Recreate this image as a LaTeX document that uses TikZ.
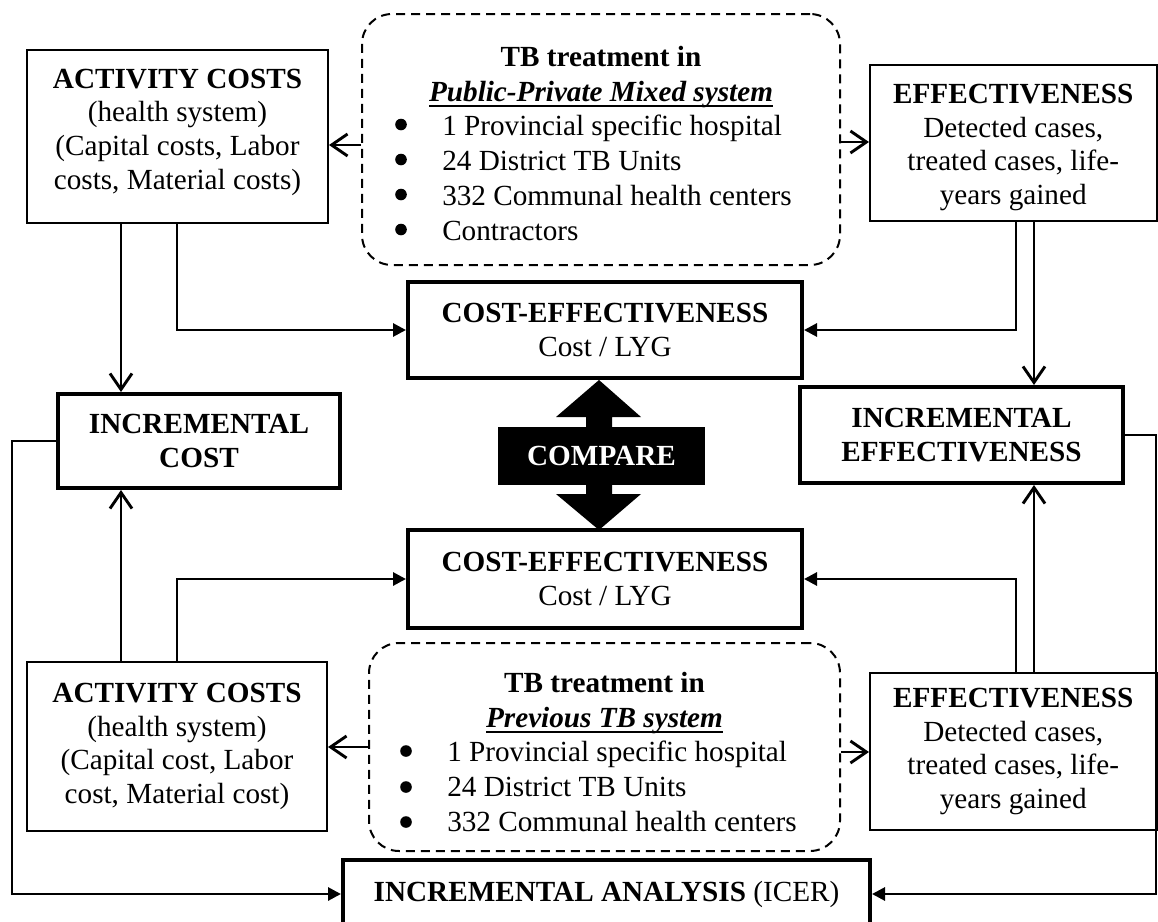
\documentclass[tikz,border=0pt]{standalone}
\usepackage{fontspec}
\setmainfont{Liberation Serif}
\usetikzlibrary{arrows.meta,calc}
\newcommand{\ulbox}[1]{\setbox0\hbox{#1}\rlap{\rule[-2.8pt]{\wd0}{1pt}}\box0}
\begin{document}
\begin{tikzpicture}[x=0.5pt,y=-0.5pt,
  every node/.style={font=\fontsize{14.6}{16.8}\selectfont, inner sep=0pt},
  thinbox/.style={draw, line width=1pt, align=center, rectangle},
  thickbox/.style={draw, line width=2pt, align=center, rectangle},
  dashbox/.style={draw, line width=1pt, dash pattern=on 4.5pt off 3pt, rounded corners=15pt, rectangle},
  conn/.style={line width=1.45pt},
  openarr/.style={conn, -{Straight Barb[length=8pt,width=11pt]}},
  fillarr/.style={conn, -{Triangle[length=6.5pt,width=6.5pt]}},
  bullet/.style={radius=5.8},
]
\useasboundingbox (0,0) rectangle (1158,922);
\clip (0,0) rectangle (1158,922);

% routing coordinates
\coordinate (xa) at (121,0);
\coordinate (xb) at (177,0);
\coordinate (xc) at (1016,0);
\coordinate (xd) at (1034,0);
\coordinate (xl) at (12,0);
\coordinate (xr) at (1156,0);

% upper row
\node[thinbox, minimum width=150.5pt, minimum height=86.5pt] (ac1) at (177.5,136.5)
  {\textbf{ACTIVITY COSTS}\\(health system)\\(Capital costs, Labor\\costs, Material costs)\rule[-7.5pt]{0pt}{7.5pt}};
\node[dashbox, minimum width=239pt, minimum height=125.5pt] (tb1) at (601,139.5)
  {\renewcommand{\arraystretch}{1.04}%
   \begin{tabular}{@{\hspace{23pt}}l@{\hspace{7pt}}}
   \multicolumn{1}{@{}c@{}}{\rule{0pt}{19.2pt}\textbf{TB treatment in}}\\
   \multicolumn{1}{@{}c@{}}{\textbf{\textit{\ulbox{Public-Private Mixed system}}}}\\
   1 Provincial specific hospital\\
   24 District TB Units\\
   332 Communal health centers\\
   Contractors
   \end{tabular}};
\node[thinbox, minimum width=143.25pt, minimum height=78pt] (ef1) at (1013.25,143)
  {\rule{0pt}{14pt}\textbf{EFFECTIVENESS}\\Detected cases,\\treated cases, life-\\years gained};

\node[thickbox, minimum width=197pt, minimum height=48pt] (ce1) at (605,330)
  {\textbf{COST-EFFECTIVENESS}\\Cost / LYG};

% middle row
\node[thickbox, minimum width=141pt, minimum height=47pt] (ic) at (199,441)
  {\textbf{INCREMENTAL}\\\textbf{COST}};
\node[thickbox, minimum width=161.5pt, minimum height=48pt] (ie) at (961.5,435)
  {\textbf{INCREMENTAL}\\\textbf{EFFECTIVENESS}};

\fill (599,380) -- (641,417) -- (612,417) -- (612,494) -- (641,494) -- (599,530)
  -- (556,494) -- (586,494) -- (586,417) -- (556,417) -- cycle;
\node[fill=black, minimum width=103.5pt, minimum height=29pt, text=white,
  font=\fontsize{14.6}{16.8}\selectfont\bfseries] (cmp) at (601.5,456) {COMPARE};

\node[thickbox, minimum width=197pt, minimum height=49pt] (ce2) at (605,579)
  {\textbf{COST-EFFECTIVENESS}\\Cost / LYG};

% lower row
\node[thinbox, minimum width=150pt, minimum height=84.5pt] (ac2) at (177,746.5)
  {\textbf{ACTIVITY COSTS}\\(health system)\\(Capital cost, Labor\\cost, Material cost)};
\node[dashbox, minimum width=235.5pt, minimum height=104pt] (tb2) at (604.5,747)
  {\renewcommand{\arraystretch}{1.04}%
   \begin{tabular}{@{\hspace{23pt}}l@{\hspace{5.5pt}}}
   \multicolumn{1}{@{}c@{}}{\rule{0pt}{20.2pt}\textbf{TB treatment in}}\\
   \multicolumn{1}{@{}c@{}}{\textbf{\textit{\ulbox{Previous TB system}}}}\\
   1 Provincial specific hospital\\
   24 District TB Units\\
   332 Communal health centers
   \end{tabular}};
\node[thinbox, minimum width=143.25pt, minimum height=78.5pt] (ef2) at (1013.25,751.5)
  {\textbf{EFFECTIVENESS}\\Detected cases,\\treated cases, life-\\years gained};

\node[thickbox, minimum width=263.5pt, minimum height=34pt] (ia) at (606.5,894)
  {\textbf{INCREMENTAL ANALYSIS} (ICER)};

% list bullets
\fill[bullet] (401,124.5) circle;
\fill[bullet] (401,159.5) circle;
\fill[bullet] (401,194.5) circle;
\fill[bullet] (401,229.5) circle;
\fill[bullet] (406,751) circle;
\fill[bullet] (406,787) circle;
\fill[bullet] (406,822) circle;

% connectors
\draw[openarr] (tb1.west |- 0,145) -- (ac1.east |- 0,145);
\draw[openarr] (tb1.east |- 0,142) -- (ef1.west |- 0,142);
\draw[openarr] (ac1.south -| xa) -- (ic.north -| xa);
\draw[fillarr] (ac1.south -| xb) |- (ce1.west);
\draw[fillarr] (ef1.south -| xc) |- (ce1.east);
\draw[openarr] (ef1.south -| xd) -- (ie.north -| xd);
\draw[fillarr] (ic.west) -- (xl |- ic.west) -- (xl |- ia.west) -- (ia.west);
\draw[openarr] (ac2.north -| xa) -- (ic.south -| xa);
\draw[fillarr] (ac2.north -| xb) |- (ce2.west);
\draw[fillarr] (ef2.north -| xc) |- (ce2.east);
\draw[openarr] (ef2.north -| xd) -- (ie.south -| xd);
\draw[fillarr] (ie.east) -- (xr |- ie.east) -- (xr |- ia.east) -- (ia.east);
\draw[openarr] (tb2.west |- 0,747) -- (ac2.east |- 0,747);
\draw[openarr] (tb2.east |- 0,752) -- (ef2.west |- 0,752);
\end{tikzpicture}
\end{document}
